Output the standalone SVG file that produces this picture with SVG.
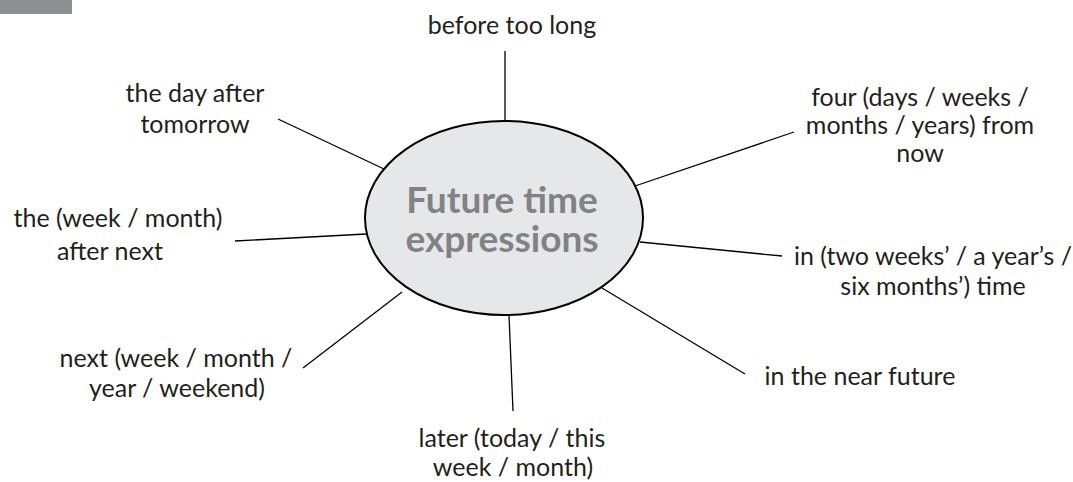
<svg xmlns="http://www.w3.org/2000/svg" width="1073" height="482" viewBox="0 0 1073 482">
<style>
.lbl{font-family:Lato,"Open Sans","Liberation Sans",sans-serif;font-size:25px;fill:#231f20;text-anchor:middle}
.ttl{font-family:Lato,"Open Sans","Liberation Sans",sans-serif;font-size:37px;font-weight:bold;fill:#808285;text-anchor:middle}
.con line{stroke:#000;stroke-width:1.3}
</style>
<rect x="0" y="0" width="72" height="14" fill="#8e8f93"/>
<g id="connectors" class="con">
<line x1="505" y1="51" x2="505" y2="121"/>
<line x1="278" y1="119" x2="384" y2="169"/>
<line x1="794" y1="132" x2="635" y2="186"/>
<line x1="235" y1="241" x2="366" y2="234"/>
<line x1="303" y1="368" x2="402" y2="292"/>
<line x1="640" y1="242" x2="782" y2="256"/>
<line x1="602" y1="288" x2="745" y2="374"/>
<line x1="509" y1="315" x2="513" y2="411"/>
</g>
<g id="center">
<ellipse cx="504" cy="218" rx="139" ry="97" fill="#e6e7e8" stroke="#000" stroke-width="2"/>
<text class="ttl" x="502" y="213">Future time</text>
<text class="ttl" x="502" y="252">expressions</text>
</g>
<g id="n-before"><text class="lbl" x="512" y="34">before too long</text></g>
<g id="n-dayafter"><text class="lbl" x="195" y="102">the day after</text><text class="lbl" x="195" y="133">tomorrow</text></g>
<g id="n-four"><text class="lbl" x="920" y="106">four (days / weeks /</text><text class="lbl" x="920" y="134">months / years) from</text><text class="lbl" x="920" y="162">now</text></g>
<g id="n-weekafter"><text class="lbl" x="118" y="227">the (week / month)</text><text class="lbl" x="110" y="260">after next</text></g>
<g id="n-in"><text class="lbl" x="933" y="265">in (two weeks’ / a year’s /</text><text class="lbl" x="933" y="295">six months’) time</text></g>
<g id="n-near"><text class="lbl" x="860" y="385">in the near future</text></g>
<g id="n-next"><text class="lbl" x="176" y="367">next (week / month /</text><text class="lbl" x="177" y="397">year / weekend)</text></g>
<g id="n-later"><text class="lbl" x="512" y="447">later (today / this</text><text class="lbl" x="513" y="476">week / month)</text></g>
</svg>
